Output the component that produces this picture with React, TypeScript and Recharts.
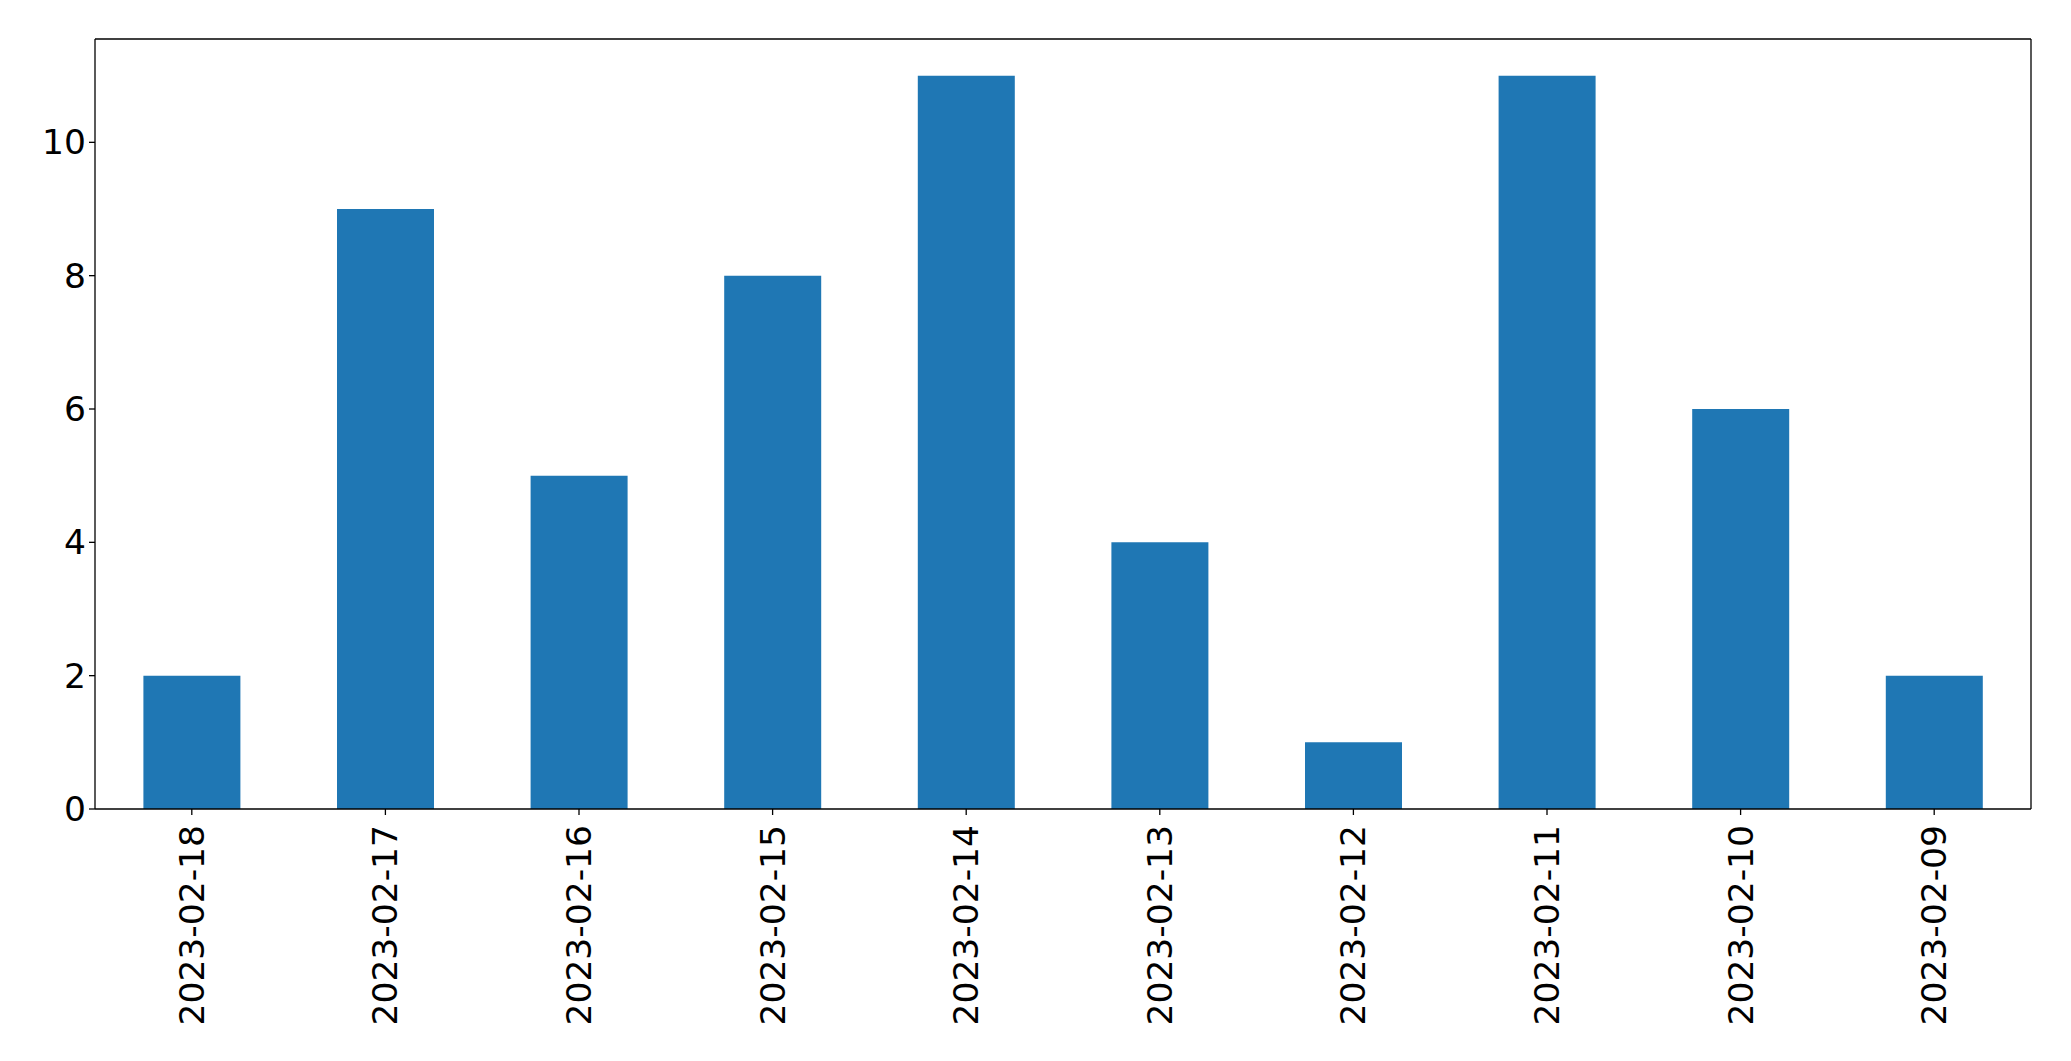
import React from 'react';
import { BarChart, Bar, XAxis, YAxis } from 'recharts';

const categories = ['2023-02-18', '2023-02-17', '2023-02-16', '2023-02-15', '2023-02-14', '2023-02-13', '2023-02-12', '2023-02-11', '2023-02-10', '2023-02-09'];
const counts = [2, 9, 5, 8, 11, 4, 1, 11, 6, 2];
const yTicks = [0, 2, 4, 6, 8, 10];

const data = categories.map((c, i) => ({ date: c, value: counts[i] }));

const FONT = 'DejaVu Sans, sans-serif';
const FS = 34.5;

const XTick = (props: any) => {
  const { x, y, payload } = props;
  return (
    <text
      transform={`translate(${x},${y + 8}) rotate(-90)`}
      textAnchor="end"
      dominantBaseline="central"
      fontFamily={FONT}
      fontSize={FS}
      fill="#000"
    >
      {payload.value}
    </text>
  );
};

const YTick = (props: any) => {
  const { x, y, payload } = props;
  return (
    <text x={x} y={y} textAnchor="end" dominantBaseline="central" fontFamily={FONT} fontSize={FS} fill="#000">
      {payload.value}
    </text>
  );
};

const line = { stroke: '#000', strokeWidth: 1.3 };

export default function App() {
  return (
    <div style={{ position: 'absolute', left: 0, top: 0, width: 2071, height: 1061, background: '#fff' }}>
      <BarChart
        width={2071}
        height={1061}
        data={data}
        margin={{ top: 38, right: 39, left: 0, bottom: 0 }}
        barCategoryGap="25%"
      >
        <XAxis
          dataKey="date"
          height={252}
          interval={0}
          tick={<XTick />}
          tickSize={6}
          tickLine={line}
          axisLine={line}
        />
        <XAxis xAxisId="top" orientation="top" dataKey="date" height={1} tick={false} tickLine={false} axisLine={line} />
        <YAxis
          width={95}
          domain={[0, 11.55]}
          ticks={yTicks}
          interval={0}
          tick={<YTick />}
          tickSize={6}
          tickMargin={3}
          tickLine={line}
          axisLine={line}
        />
        <YAxis yAxisId="right" orientation="right" width={1} domain={[0, 11.55]} tick={false} tickLine={false} axisLine={line} />
        <Bar dataKey="value" fill="#1f77b4" isAnimationActive={false} />
      </BarChart>
    </div>
  );
}
